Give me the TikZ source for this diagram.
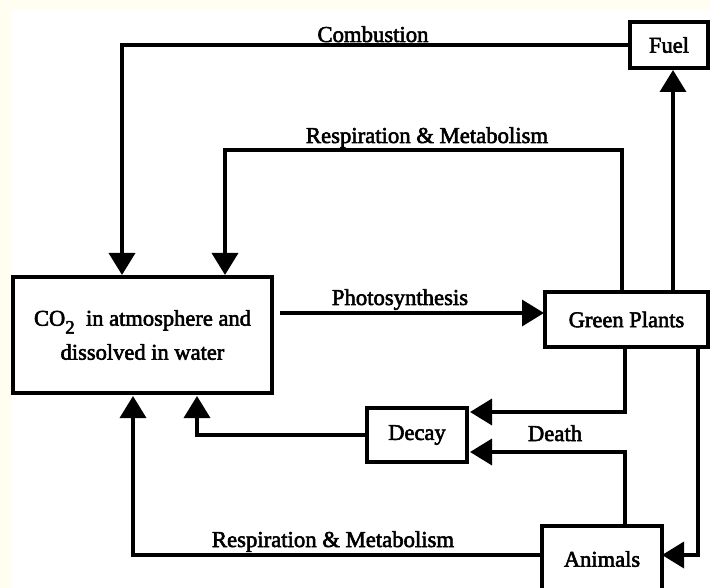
\documentclass[tikz,border=0pt]{standalone}
\usepackage{fontspec}
\setmainfont{Liberation Serif}[FakeBold=2.5]
\usetikzlibrary{arrows.meta}
\definecolor{cream}{HTML}{FFFEF0}
\tikzset{
  box/.style={draw,line width=4.5pt,inner sep=0pt,font=\fontsize{22.5}{26}\selectfont},
  conn/.style={line width=3.5pt},
  arr/.style={conn,-{Triangle[length=22pt,width=26pt]}},
  lbl/.style={font=\fontsize{22.7}{26}\selectfont,anchor=base,inner sep=0pt}
}
\begin{document}
\begin{tikzpicture}[x=1pt,y=-1pt]
\useasboundingbox (0,0) rectangle (710,588);
\clip (0,0) rectangle (710,588);
\fill[cream] (0,0) rectangle (710,588);
\fill[white] (12,10) rectangle (710,588);

% boxes
\node[box,minimum width=259pt,minimum height=116pt,align=center,
      font=\fontsize{22.5}{34}\selectfont] (co2) at (142.5,335)
  {CO\raisebox{-0.35em}{\fontsize{19}{19}\selectfont 2}\ \ in atmosphere and\\dissolved in water};
\node[box,minimum width=78pt,minimum height=46pt] (fuel) at (669,45) {Fuel};
\node[box,minimum width=163pt,minimum height=55pt] (gp) at (626.5,319.5) {Green Plants};
\node[box,minimum width=100pt,minimum height=54pt] (decay) at (417,435) {Decay};
\node[box,minimum width=120pt,minimum height=66pt] (animals) at (602,559) {Animals};

% named coordinates
\coordinate (c1) at (122,275);
\coordinate (c2) at (225,275);
\coordinate (r1) at (225,150);
\coordinate (gpt1) at (622,292);
\coordinate (gpt2) at (673,292);
\coordinate (fuelb) at (673,70);
\coordinate (ph1) at (280,313);
\coordinate (ph2) at (544,313);
\coordinate (gpb1) at (625,347);
\coordinate (gpb2) at (698,347);
\coordinate (d1) at (470,412);
\coordinate (d2) at (470,452);
\coordinate (an1) at (625,526);
\coordinate (an2) at (662,555);
\coordinate (an3) at (542,555);
\coordinate (c3) at (197,396);
\coordinate (c4) at (133,396);

% connectors
\draw[arr] (fuel.west) -| (c1);
\draw[arr] (gpt1) |- (r1) -- (c2);
\draw[arr] (gpt2) -- (fuelb);
\draw[arr] (ph1) -- (ph2);
\draw[arr] (gpb1) |- (d1);
\draw[arr] (an1) |- (d2);
\draw[arr] (gpb2) |- (an2);
\draw[arr] (decay.west) -| (c3);
\draw[arr] (an3) -| (c4);

% labels
\node[lbl] (lcomb) at (373,42) {Combustion};
\node[lbl] (lresp1) at (427,143) {Respiration \& Metabolism};
\node[lbl] (lphot) at (400,305) {Photosynthesis};
\node[lbl] (ldeath) at (555,441) {Death};
\node[lbl] (lresp2) at (333,547) {Respiration \& Metabolism};
\end{tikzpicture}
\end{document}
